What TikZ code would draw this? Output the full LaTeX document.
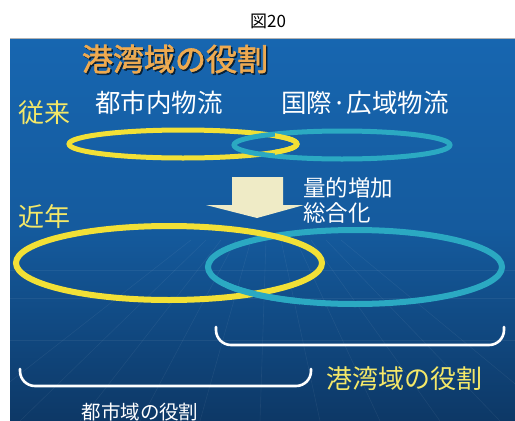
\documentclass[tikz,border=0pt]{standalone}
\usepackage{fontspec}
\newfontfamily\cjk{Noto Sans CJK JP}
\newfontfamily\cjkb[FakeBold=2]{Noto Sans CJK JP}
\definecolor{bgtop}{HTML}{1766B0}
\definecolor{bgbot}{HTML}{0D3866}
\definecolor{ylw}{HTML}{F2E036}
\definecolor{cyn}{HTML}{2BA9C2}
\definecolor{txty}{HTML}{F4E868}
\definecolor{gold}{HTML}{EEAA50}
\definecolor{cream}{HTML}{EFEBC6}
\tikzset{
  lbl/.style={inner sep=0pt, font=\cjk},
  ring/.style={line width=#1},
  brk/.style={draw=white, line width=2.6pt, line cap=round, rounded corners=15pt},
}
\begin{document}
\begin{tikzpicture}[x=1pt,y=-1pt]
\useasboundingbox (0,0) rectangle (515,421);
\fill[white] (0,0) rectangle (515,421);
\node[lbl, font=\cjk\fontsize{17}{19}\selectfont] (fig) at (268,21) {図20};
% background panel
\shade[top color=bgtop, bottom color=bgbot, middle color=bgtop!75!bgbot] (10,38) rectangle (515,421);
\draw[gray!60, line width=0.8pt] (10,38) -- (515,38);
% faint grid
\begin{scope}[white, opacity=0.06, line width=0.6pt]
  \foreach \x in {-40,20,80,140,200,260,320,380,440,500,560}
    \draw (268+0.25*\x-67,240) -- (\x,421);
  \draw (10,270) -- (515,270);
  \draw (10,298) -- (515,298);
  \draw (10,340) -- (515,340);
\end{scope}
% title
\node[lbl, font=\cjkb\fontsize{31}{34}\selectfont, text=black!70!bgtop] at (176.5,60.5) {港湾域の役割};
\node[lbl, font=\cjkb\fontsize{31}{34}\selectfont, text=gold] (title) at (175,59) {港湾域の役割};
% labels
\node[lbl, font=\cjk\fontsize{26}{28}\selectfont, text=txty] (jurai) at (45,113) {従来};
\node[lbl, font=\cjk\fontsize{25.5}{28}\selectfont, text=white] (toshi) at (159,103) {都市内物流};
\node[lbl, font=\cjk\fontsize{25.5}{28}\selectfont, text=white] (kokusai) at (365,103) {国際·広域物流};
% old ellipses
\draw[ylw, ring=5pt] (183,144) ellipse [x radius=114, y radius=14];
\draw[cyn, ring=5pt] (342,145) ellipse [x radius=108, y radius=14];
\begin{scope}
  \clip (275,120) rectangle (310,170);
  \draw[ylw, ring=5pt] (183,144) ellipse [x radius=114, y radius=14];
\end{scope}
% arrow
\fill[cream] (232,177) -- (283,177) -- (283,205) -- (304,205) -- (257,218) -- (206,205) -- (232,205) -- cycle;
\node[lbl, font=\cjk\fontsize{22.5}{25}\selectfont, text=white, anchor=west] (ryou) at (303,188) {量的増加};
\node[lbl, font=\cjk\fontsize{22.5}{25}\selectfont, text=white, anchor=west] (sougou) at (303,213) {総合化};
\node[lbl, font=\cjk\fontsize{26}{28}\selectfont, text=txty] (kinnen) at (45,217) {近年};
% new ellipses
\draw[cyn, ring=6pt] (355,267) ellipse [x radius=147, y radius=37];
\draw[ylw, ring=6pt] (169,263) ellipse [x radius=153, y radius=37];
\begin{scope}
  \clip (225,280) rectangle (300,310);
  \draw[cyn, ring=6pt] (355,267) ellipse [x radius=147, y radius=37];
\end{scope}
% brackets
\draw[brk] (216,327) -- (216,345) -- (504,345) -- (504,327);
\draw[brk] (20,369) -- (20,386) -- (311,386) -- (311,369);
\node[lbl, font=\cjk\fontsize{26}{28}\selectfont, text=txty] (kowan) at (404,379) {港湾域の役割};
\node[lbl, font=\cjk\fontsize{19.5}{22}\selectfont, text=white] (toshiiki) at (140,412) {都市域の役割};
\end{tikzpicture}
\end{document}
